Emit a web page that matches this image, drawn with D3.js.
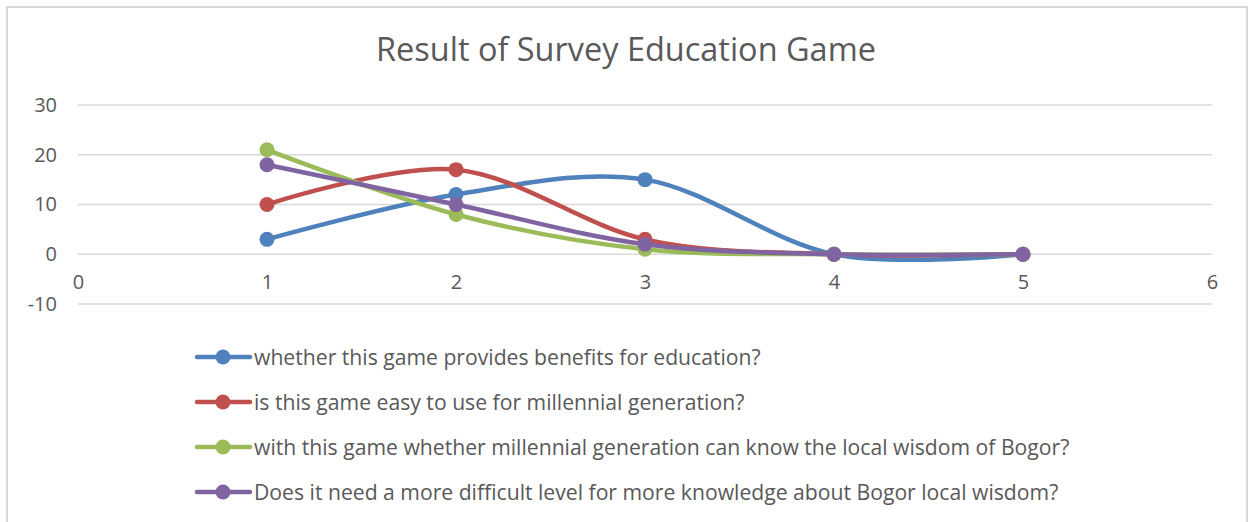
<!DOCTYPE html>
<html>
<head>
<meta charset="utf-8">
<script src="https://cdn.jsdelivr.net/npm/d3@7"></script>
<style>
  body { margin: 0; background: #fff; }
  text { font-family: "Open Sans", "Liberation Sans", sans-serif; fill: #595959; }
</style>
</head>
<body>
<svg id="chart"></svg>
<script>
const W = 1252, H = 522;

// data
const xValues = [1, 2, 3, 4, 5];
const seriesNames = [
  "whether this game provides benefits for education?",
  "is this game easy to use for millennial generation?",
  "with this game whether millennial generation can know the local wisdom of Bogor?",
  "Does it need a more difficult level for more knowledge about Bogor local wisdom?"
];
const benefits  = [3, 12, 15, 0, 0];
const easyUse   = [10, 17, 3, 0, 0];
const localWis  = [21, 8, 1, 0, 0];
const harderLvl = [18, 10, 2, 0, 0];
const colors = ["#4F81BD", "#C0504D", "#9BBB59", "#8064A2"];
const xTicks = [0, 1, 2, 3, 4, 5, 6];
const yTicks = [-10, 0, 10, 20, 30];

const allSeries = [benefits, easyUse, localWis, harderLvl].map((vals, i) => ({
  name: seriesNames[i],
  color: colors[i],
  points: vals.map((v, j) => ({ x: xValues[j], y: v }))
}));

const svg = d3.select("#chart").attr("width", W).attr("height", H);

// chart frame
svg.append("path")
  .attr("d", `M7,${H + 5}V7H1247V${H + 5}`)
  .attr("fill", "none")
  .attr("stroke", "#d9d9d9")
  .attr("stroke-width", 2);

// scales
const x = d3.scaleLinear().domain([0, 6]).range([78, 1212]);
const y = d3.scaleLinear().domain([-10, 30]).range([304, 105]);

// fit text to a target width
function fit(sel, target) {
  const len = sel.node().getComputedTextLength();
  const fs = parseFloat(sel.attr("font-size"));
  sel.attr("font-size", fs * target / len);
}

// title
const title = svg.append("text")
  .attr("x", 626).attr("y", 61)
  .attr("text-anchor", "middle")
  .attr("font-size", 30)
  .text("Result of Survey Education Game");
fit(title, 500);

// gridlines
svg.append("g")
  .selectAll("line")
  .data(yTicks)
  .join("line")
    .attr("x1", x(0)).attr("x2", x(6))
    .attr("y1", d => y(d)).attr("y2", d => y(d))
    .attr("stroke", "#d9d9d9")
    .attr("stroke-width", 1.5);

const plain = d => String(d);

// y axis labels
const yAxis = svg.append("g")
  .attr("transform", `translate(${x(0)},0)`)
  .call(d3.axisLeft(y).tickValues(yTicks).tickFormat(plain).tickSize(0).tickPadding(21));
yAxis.select(".domain").remove();
yAxis.attr("font-family", null);
yAxis.selectAll("text")
  .attr("font-size", 20)
  .attr("fill", "#595959");

// x axis labels sit under the zero line
const xAxis = svg.append("g")
  .attr("transform", `translate(0,${y(0)})`)
  .call(d3.axisBottom(x).tickValues(xTicks).tickFormat(plain).tickSize(0).tickPadding(21));
xAxis.select(".domain").remove();
xAxis.attr("font-family", null);
xAxis.selectAll("text")
  .attr("font-size", 20)
  .attr("fill", "#595959");

// smoothed lines
const lineGen = d3.line()
  .x(d => x(d.x))
  .y(d => y(d.y))
  .curve(d3.curveCardinal.tension(0));

const series = svg.append("g")
  .selectAll("g")
  .data(allSeries)
  .join("g");

series.append("path")
  .attr("fill", "none")
  .attr("stroke", d => d.color)
  .attr("stroke-width", 4.5)
  .attr("stroke-linecap", "round")
  .attr("d", d => lineGen(d.points));

series.selectAll("circle")
  .data(d => d.points.map(p => ({ ...p, color: d.color })))
  .join("circle")
    .attr("cx", d => x(d.x))
    .attr("cy", d => y(d.y))
    .attr("r", 7.5)
    .attr("fill", d => d.color);

// legend
const legend = svg.append("g")
  .selectAll("g")
  .data(allSeries)
  .join("g")
    .attr("transform", (d, i) => `translate(195,${357 + i * 45})`);

legend.append("line")
  .attr("x1", 2).attr("x2", 55)
  .attr("stroke", d => d.color)
  .attr("stroke-width", 4.5)
  .attr("stroke-linecap", "round");

legend.append("circle")
  .attr("cx", 28)
  .attr("r", 7.5)
  .attr("fill", d => d.color);

const legendText = legend.append("text")
  .attr("x", 59)
  .attr("y", 1)
  .attr("dy", "0.35em")
  .attr("font-size", 18)
  .text(d => d.name);
fit(d3.select(legendText.nodes()[2]), 816);
legendText.attr("font-size", d3.select(legendText.nodes()[2]).attr("font-size"));
</script>
</body>
</html>
